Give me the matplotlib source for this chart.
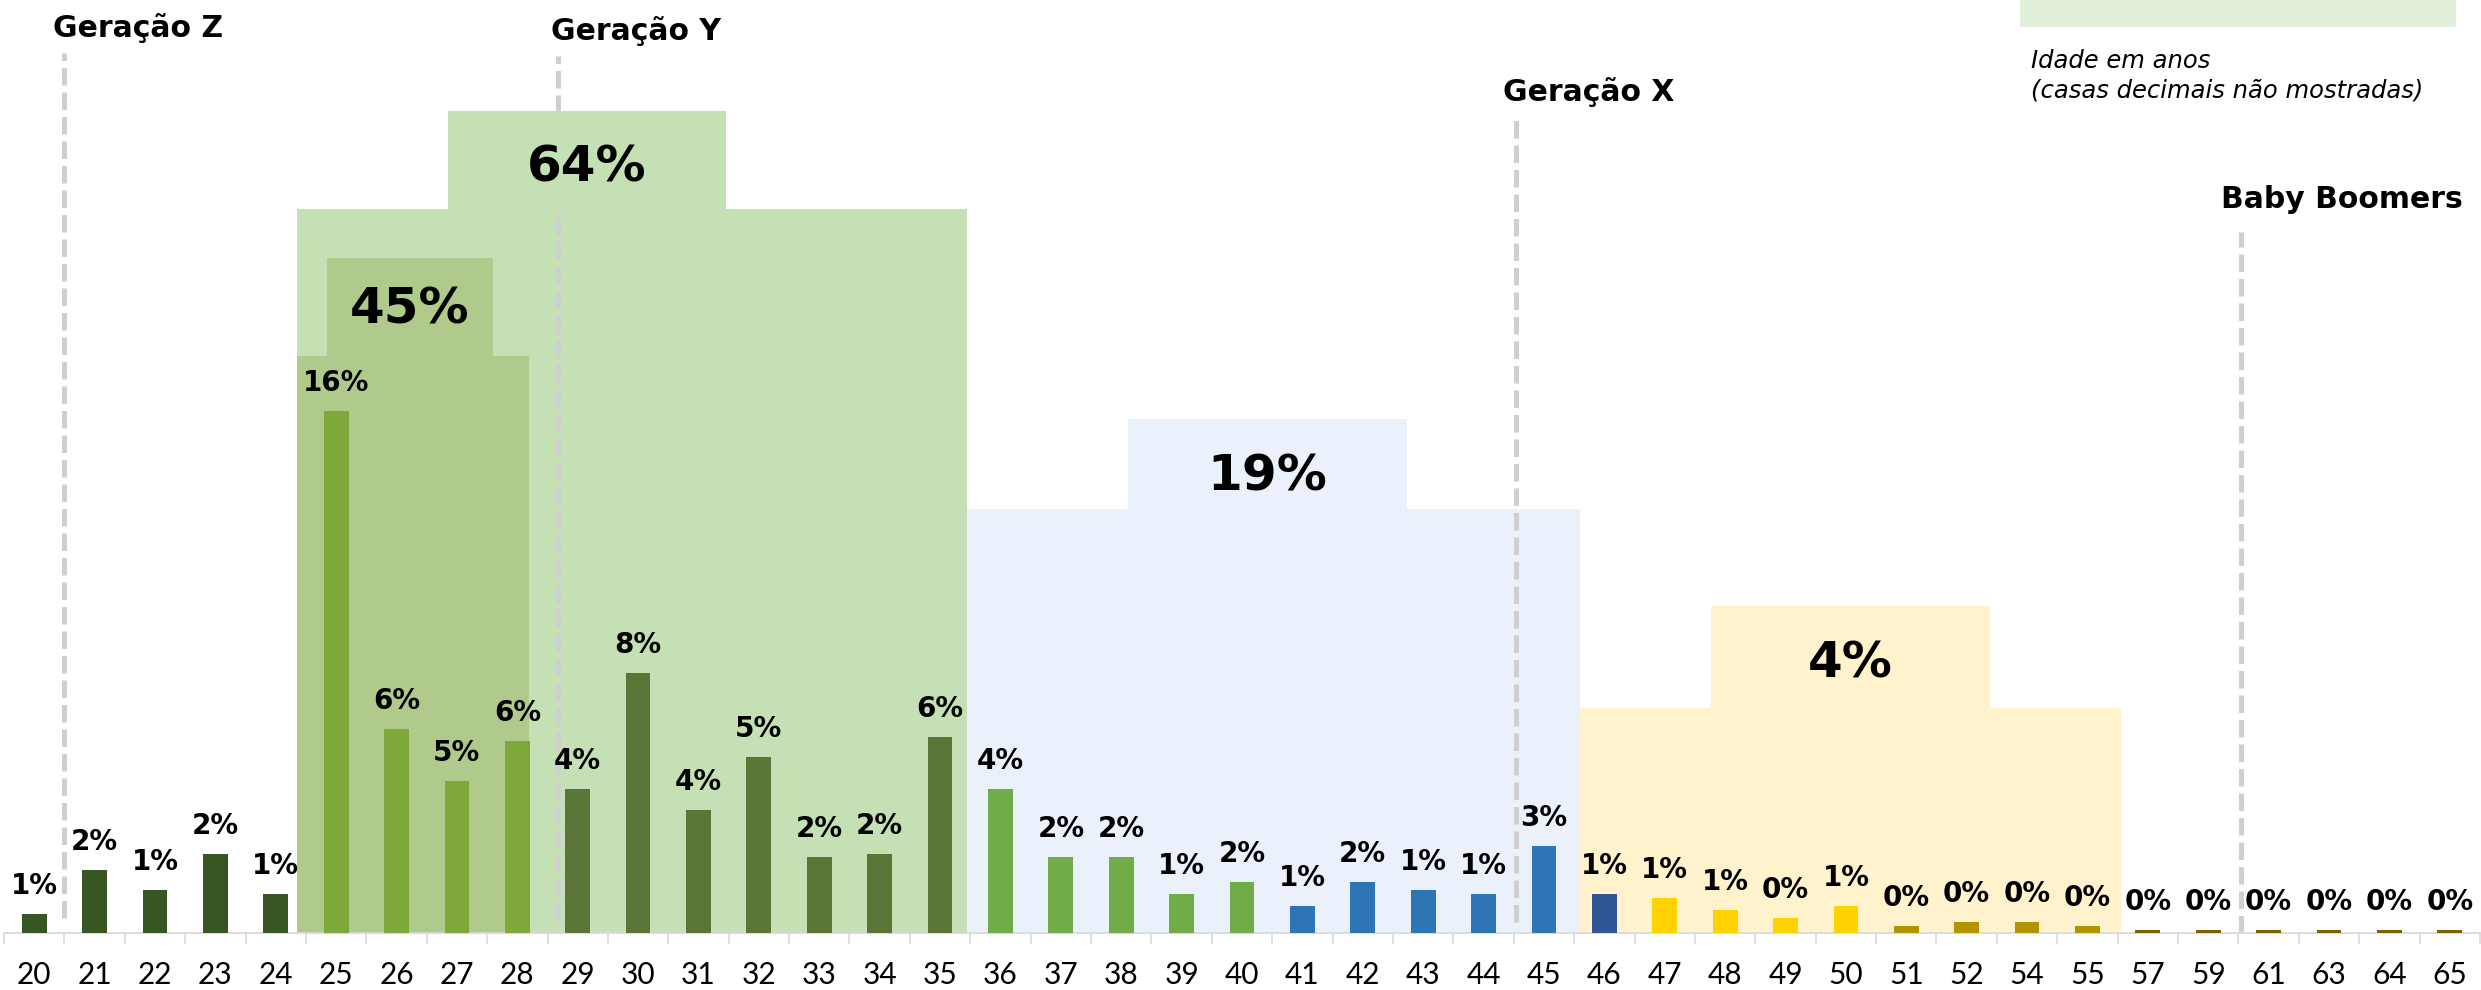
import matplotlib
matplotlib.use("Agg")
import matplotlib.pyplot as plt
import numpy as np

## DATA ##
ages = ['20', '21', '22', '23', '24', '25', '26', '27', '28', '29', '30', '31', '32',
        '33', '34', '35', '36', '37', '38', '39', '40', '41', '42', '43', '44', '45',
        '46', '47', '48', '49', '50', '51', '52', '54', '55', '57', '59', '61', '63',
        '64', '65']
share = [0.58, 1.93, 1.32, 2.43, 1.20, 16.0, 6.26, 4.66, 5.89, 4.42, 7.98, 3.77, 5.40,
         2.32, 2.43, 6.02, 4.42, 2.32, 2.32, 1.20, 1.56, 0.83, 1.56, 1.32, 1.20, 2.67,
         1.20, 1.08, 0.70, 0.46, 0.83, 0.22, 0.34, 0.34, 0.22, 0.10, 0.10, 0.10, 0.10,
         0.10, 0.10]

# colour groups (number of bars in each run)
group_counts = [5, 4, 7, 5, 5, 1, 4, 4, 6]
group_colors = ['#375623', '#7EA83A', '#5A7535', '#70AD47', '#2E75B6', '#2F5597',
                '#FFD200', '#B39400', '#7F6000']

# cumulated share of each highlighted range
range_labels = ['64%', '45%', '19%', '4%']

generations = ['Geração Z', 'Geração Y', 'Geração X', 'Baby Boomers']

## LAYOUT (data coordinates) ##
# x0, x1, low top, upper x0, upper x1, upper top, colour
blocks = [(4.35, 15.45, 22.2, 6.85, 11.46, 25.2, '#C5E0B4'),
          (4.35, 8.19, 17.7, 4.85, 7.60, 20.7, '#B0CA8C'),
          (15.45, 25.6, 13.0, 18.11, 22.73, 15.77, '#EAF1FA'),
          (25.6, 34.55, 6.9, 27.77, 32.38, 10.03, '#FFF2CC')]
block_label_y = [23.05, 18.71, 13.56, 7.85]

# line x, line bottom, line top, label x, label y
gen_lines = [(0.5, 0.46, 27.0, 0.31, 27.48),
             (8.67, 0.37, 26.9, 8.56, 27.39),
             (24.53, 0.34, 25.1, 24.32, 25.52),
             (36.54, 0.0, 21.5, 36.21, 22.24)]

bar_colors = np.repeat(group_colors, group_counts)
x = np.arange(len(ages))

## PLOTTING ##
fig = plt.figure(figsize=(24.81, 9.9), dpi=100)
ax = fig.add_axes([4 / 2481, 57 / 990, 2476 / 2481, 933 / 990])
ax.set_xlim(-0.5, len(ages) - 0.5)
ax.set_ylim(0, 28.62)

# background ranges
for i, (x0, x1, low, u0, u1, top, col) in enumerate(blocks):
    ax.bar(x0, low, width=x1 - x0, align='edge', color=col, zorder=1 + 0.1 * i, linewidth=0)
    ax.bar(u0, top - low, bottom=low, width=u1 - u0, align='edge', color=col, zorder=3, linewidth=0)
    ax.text((u0 + u1) / 2, block_label_y[i], range_labels[i], ha='center', va='baseline',
            fontsize=36, fontweight='bold', zorder=5)

# generation separators
for (lx, y0, y1, tx, ty), name in zip(gen_lines, generations):
    ax.plot([lx, lx], [y0, y1], color='#CFCFCF', lw=3.6, dashes=(3.5, 1.4),
            solid_capstyle='butt', zorder=2)
    ax.text(tx, ty, name, ha='left', va='baseline', fontsize=21.5, fontweight='bold')

# bars
ax.bar(x, share, width=0.41, color=bar_colors, zorder=4, linewidth=0)
for xi, v in zip(x, share):
    ax.annotate('{}%'.format(int(round(v))), (xi, v), xytext=(0, 14.4),
                textcoords='offset points', ha='center', va='baseline',
                fontsize=20, fontweight='bold', zorder=5)

# legend patch and note
ax.bar(32.88, 2, bottom=27.8, width=40.1 - 32.88, align='edge', color='#E2EFDA',
       linewidth=0, zorder=1)
ax.text(33.06, 26.53, 'Idade em anos', fontsize=17.5, style='italic', va='baseline')
ax.text(33.06, 25.64, '(casas decimais não mostradas)', fontsize=17.5, style='italic',
        va='baseline')

# axis
for s in ['top', 'right', 'left']:
    ax.spines[s].set_visible(False)
ax.spines['bottom'].set_color('#D9D9D9')
ax.spines['bottom'].set_linewidth(1.3)
ax.set_yticks([])
ax.set_xticks(x)
ax.set_xticklabels(ages, fontsize=21.5, fontfamily='Lato', fontweight='normal', color='black')
ax.set_xticks(np.arange(-0.5, len(ages)), minor=True)
ax.tick_params(axis='x', which='major', length=0, pad=20)
ax.tick_params(axis='x', which='minor', length=8, width=1.2, color='#D9D9D9')

plt.savefig('out.png', dpi=100)
